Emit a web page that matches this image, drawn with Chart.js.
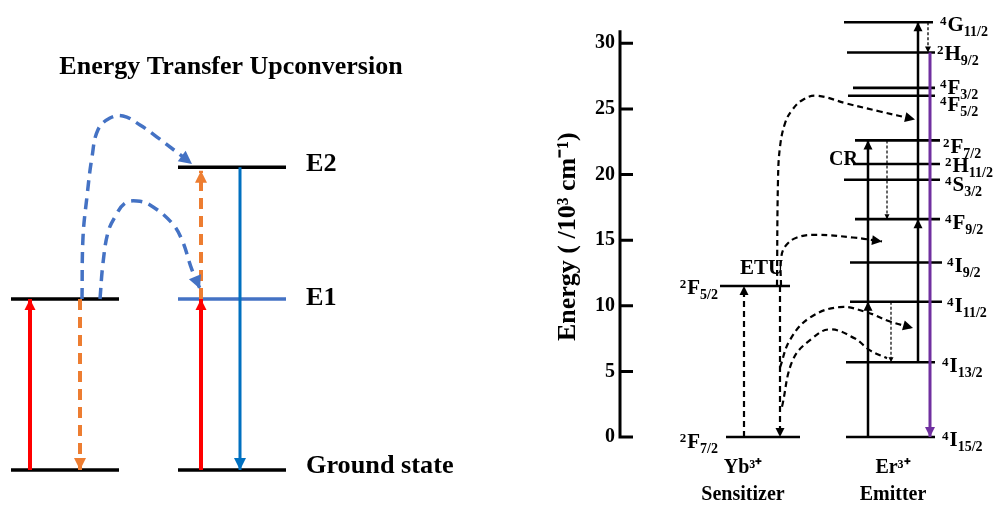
<!DOCTYPE html>
<html>
<head>
<meta charset="utf-8">
<script src="https://cdn.jsdelivr.net/npm/chart.js@4.4.1/dist/chart.umd.min.js"></script>
<style>
  html, body { margin: 0; padding: 0; background: #fff; }
  #wrap { position: relative; width: 996px; height: 505px; }
  #left { position: absolute; left: 0; top: 0; width: 462px; height: 505px; }
  #right { position: absolute; left: 462px; top: 0; width: 534px; height: 505px; }
</style>
</head>
<body>
<div id="wrap">
  <div id="left"><canvas id="etu"></canvas></div>
  <div id="right"><canvas id="ybEr"></canvas></div>
</div>
<script>
// ---- left panel: generic ETU scheme (arbitrary units, E1 = 1) ----
const etuLevelNames = ["Ground state", "E1", "E2"];
const etuLevelEnergy = [0, 1, 1.77];

// ---- right panel: Yb3+ sensitizer / Er3+ emitter, 10^3 cm^-1 ----
const ybTerms = ["2F7/2", "2F5/2"];
const ybEnergy = [0, 11.5];
const erTerms = ["4I15/2", "4I13/2", "4I11/2", "4I9/2", "4F9/2", "4S3/2",
                 "2H11/2", "2F7/2", "4F5/2", "4F3/2", "2H9/2", "4G11/2"];
const erEnergy = [0, 5.7, 10.3, 13.3, 16.6, 19.6, 20.8, 22.6, 26.0, 26.6, 29.3, 31.6];
const energyTicks = [0, 5, 10, 15, 20, 25, 30];
const ionNames = ["Yb³⁺", "Er³⁺"];
const ionRoles = ["Sensitizer", "Emitter"];

// ---- layout (x in page px, both x scales are set up that way) ----
const FONT = '"Liberation Serif", "Times New Roman", serif';
const ETU_SPAN = { left: [11, 119], right: [178, 286] };
const ETU_LABEL_X = 306;
const ETU_LABEL_DY = [-3, 0, -2.5];
const ER_SPAN = [[846, 935], [846, 935], [850, 942], [850, 942], [855, 940], [844, 940],
                 [853, 940], [855, 940], [848, 935], [853, 935], [847, 935], [844, 933]];
const ER_LABEL_X = [942, 942, 947, 947, 945, 945, 945, 943, 940, 940, 937, 940];
const ER_LABEL_DY = [2, 3, 3, 3, 3, 4, 1, 6, 8, -1, 1, 2];
const YB_SPAN = [[726, 800], [720, 790]];
const YB_LABEL_RIGHT = 718;
const YB_LABEL_DY = [4, 1];
const ION_X = [743, 893];
const AXIS_TOP = 31.0;

const line = (pts, color, width, opts = {}) => ({
  data: pts.map(([x, y]) => ({ x, y })),
  showLine: true,
  borderColor: color,
  backgroundColor: color,
  borderWidth: width,
  borderDash: opts.dash || [],
  borderCapStyle: "butt",
  tension: opts.tension || 0,
  pointRadius: 0,
  pointHoverRadius: 0,
  clip: false,
  order: opts.order ?? 1,
  head: opts.head || 0,
});

/** filled triangle at the last point of any dataset that has `head` */
const arrowHeads = {
  id: "arrowHeads",
  afterDatasetsDraw(chart) {
    const ctx = chart.ctx;
    chart.data.datasets.forEach((ds, i) => {
      if (!ds.head) return;
      const pts = chart.getDatasetMeta(i).data;
      const tip = pts[pts.length - 1];
      const prev = pts[pts.length - 2];
      const fx = tip.cp1x !== undefined ? tip.cp1x : prev.x;
      const fy = tip.cp1y !== undefined ? tip.cp1y : prev.y;
      let dx = tip.x - fx, dy = tip.y - fy;
      const len = Math.hypot(dx, dy) || 1;
      dx /= len; dy /= len;
      const L = ds.head, w = ds.head * 0.5;
      const bx = tip.x - dx * L, by = tip.y - dy * L;
      ctx.save();
      ctx.fillStyle = ds.borderColor;
      ctx.beginPath();
      ctx.moveTo(tip.x, tip.y);
      ctx.lineTo(bx - dy * w, by + dx * w);
      ctx.lineTo(bx + dy * w, by - dx * w);
      ctx.closePath();
      ctx.fill();
      ctx.restore();
    });
  },
};

// ================= left chart =================
const [G, E1, E2] = etuLevelEnergy;
const ORANGE = "#ED7D31", RED = "#FF0000", BLUE_D = "#4472C4", BLUE = "#0070C0";

const etuDatasets = [
  // levels
  line([[ETU_SPAN.left[0], G], [ETU_SPAN.left[1], G]], "#000", 3.5, { order: 3 }),
  line([[ETU_SPAN.left[0], E1], [ETU_SPAN.left[1], E1]], "#000", 3.5, { order: 3 }),
  line([[ETU_SPAN.right[0], G], [ETU_SPAN.right[1], G]], "#000", 3.5, { order: 3 }),
  line([[ETU_SPAN.right[0], E1], [ETU_SPAN.right[1], E1]], BLUE_D, 3.5, { order: 3 }),
  line([[ETU_SPAN.right[0], E2], [ETU_SPAN.right[1], E2]], "#000", 3.5, { order: 3 }),
  // transitions
  line([[30, G], [30, E1]], RED, 4, { head: 11 }),
  line([[80, E1], [80, G]], ORANGE, 4, { dash: [11, 7], head: 12 }),
  line([[201, G], [201, E1]], RED, 4, { head: 11 }),
  line([[201, E1], [201, E2 - 0.02]], ORANGE, 4, { dash: [11, 7], head: 12 }),
  line([[240, E2], [240, G]], BLUE, 3, { head: 12 }),
  // energy transfer paths
  line([[82, E1], [83, 1.36], [87, 1.6], [92, 1.83], [98, 1.99], [110, 2.058],
        [123, 2.07], [140, 2.018], [157, 1.947], [192, 1.79]],
       BLUE_D, 3.5, { dash: [11, 7], head: 13, tension: 0.4, order: 2 }),
  line([[100, E1], [103, 1.21], [108, 1.39], [115, 1.48], [125, 1.56], [137, 1.573],
        [150, 1.55], [172, 1.444], [182, 1.345], [192, 1.17], [200, 1.06]],
       BLUE_D, 3.5, { dash: [11, 7], head: 13, tension: 0.4, order: 2 }),
];

function wideText(ctx, text, x, y, size, sx, align) {
  ctx.save();
  ctx.font = `bold ${size}px ${FONT}`;
  ctx.fillStyle = "#000";
  ctx.textBaseline = "middle";
  ctx.textAlign = align;
  ctx.translate(x, y);
  ctx.scale(sx, 1);
  ctx.fillText(text, 0, 0);
  ctx.restore();
}

const etuText = {
  id: "etuText",
  afterDraw(chart) {
    const { ctx, scales: { x, y } } = chart;
    wideText(ctx, "Energy Transfer Upconversion", chart.width / 2, 67.5, 25, 1.04, "center");
    etuLevelNames.forEach((name, i) => {
      wideText(ctx, name, x.getPixelForValue(ETU_LABEL_X),
               y.getPixelForValue(etuLevelEnergy[i]) + ETU_LABEL_DY[i], 25, 1.05, "left");
    });
  },
};

new Chart(document.getElementById("etu"), {
  type: "scatter",
  data: { datasets: etuDatasets },
  options: {
    responsive: true,
    maintainAspectRatio: false,
    animation: false,
    events: [],
    layout: { padding: { top: 91.4, bottom: 35, left: 0, right: 0 } },
    scales: {
      x: { type: "linear", display: false, min: 0, max: 462 },
      y: { type: "linear", display: false, min: 0, max: 2.214 },
    },
    plugins: { legend: { display: false }, tooltip: { enabled: false } },
  },
  plugins: [arrowHeads, etuText],
});

// ================= right chart =================
const PURPLE = "#7030A0";
const er = erEnergy, yb = ybEnergy;
const DASH = [6, 4], DOT = [3, 2];

const ybErDatasets = [
  ...ybEnergy.map((e, i) => line([[YB_SPAN[i][0], e], [YB_SPAN[i][1], e]], "#000", 2.6, { order: 3 })),
  ...erEnergy.map((e, i) => line([[ER_SPAN[i][0], e], [ER_SPAN[i][1], e]], "#000", 2.6, { order: 3 })),
  // Yb absorption / back transfer
  line([[744, yb[0]], [744, yb[1]]], "#000", 2.2, { dash: DASH, head: 9 }),
  line([[780, yb[1]], [780, yb[0]]], "#000", 2.2, { dash: DASH, head: 9 }),
  // Er ground/excited state absorption
  line([[868, er[0]], [868, er[2]]], "#000", 2.5, { head: 9 }),
  line([[868, er[2]], [868, er[7]]], "#000", 2.5, { head: 9 }),
  line([[918, er[1]], [918, er[4]]], "#000", 2.5, { head: 9 }),
  line([[918, er[4]], [918, er[11]]], "#000", 2.5, { head: 9 }),
  // emission
  line([[930, er[10]], [930, er[0]]], PURPLE, 3, { head: 10 }),
  // non-radiative / cross relaxation
  line([[928, er[11]], [928, er[10]]], "#000", 1.3, { dash: DOT, head: 6 }),
  line([[887, er[7]], [887, er[4]]], "#000", 1.2, { dash: DOT, head: 5 }),
  line([[891, er[2]], [891, er[1]]], "#000", 1.2, { dash: DOT, head: 5 }),
  // ETU paths
  line([[777, yb[1]], [778, 19.6], [780, 22.1], [785, 23.9], [792, 24.9], [803, 25.7],
        [817, 26.0], [847, 25.4], [880, 24.8], [915, 24.2]],
       "#000", 2.2, { dash: DASH, head: 10, tension: 0.4 }),
  line([[781, yb[1]], [781, 13.5], [785, 14.5], [797, 15.2], [817, 15.4], [853, 15.2], [882, 14.9]],
       "#000", 2.2, { dash: DASH, head: 10, tension: 0.4 }),
  line([[780, 5.3], [790, 7.4], [810, 9.1], [840, 9.9], [867, 9.5], [890, 8.8], [913, 8.3]],
       "#000", 2.2, { dash: DASH, head: 10, tension: 0.4 }),
  line([[782, 2.3], [793, 5.9], [812, 7.5], [830, 8.2], [855, 7.5], [870, 6.6], [887, 6.0]],
       "#000", 2.2, { dash: DASH, tension: 0.4 }),
];

function drawTerm(ctx, term, x, yc, align) {
  const sup = term[0], letter = term[1], sub = term.slice(2);
  const big = 21, small = 13, subSize = 14;
  ctx.save();
  ctx.fillStyle = "#000";
  ctx.textBaseline = "alphabetic";
  ctx.textAlign = "left";
  ctx.font = `bold ${small}px ${FONT}`;
  const wSup = ctx.measureText(sup).width;
  ctx.font = `bold ${big}px ${FONT}`;
  const wL = ctx.measureText(letter).width;
  ctx.font = `bold ${subSize}px ${FONT}`;
  const wSub = ctx.measureText(sub).width;
  let cx = align === "right" ? x - (wSup + 1 + wL + wSub) : x;
  const base = yc + big * 0.33;
  ctx.font = `bold ${small}px ${FONT}`;
  ctx.fillText(sup, cx, base - 6);
  cx += wSup + 1;
  ctx.font = `bold ${big}px ${FONT}`;
  ctx.fillText(letter, cx, base);
  cx += wL;
  ctx.font = `bold ${subSize}px ${FONT}`;
  ctx.fillText(sub, cx, base + 5);
  ctx.restore();
}

const ybErDecor = {
  id: "ybErDecor",
  afterDraw(chart) {
    const { ctx, chartArea, scales: { x, y } } = chart;
    ctx.save();
    // axis spine with inward ticks
    ctx.strokeStyle = "#000";
    ctx.lineWidth = 3;
    ctx.beginPath();
    ctx.moveTo(chartArea.left, y.getPixelForValue(0) + 1.5);
    ctx.lineTo(chartArea.left, y.getPixelForValue(AXIS_TOP));
    energyTicks.forEach((v) => {
      const py = y.getPixelForValue(v);
      ctx.moveTo(chartArea.left - 1.5, py);
      ctx.lineTo(chartArea.left + 13, py);
    });
    ctx.stroke();
    ctx.restore();

    erTerms.forEach((t, i) =>
      drawTerm(ctx, t, x.getPixelForValue(ER_LABEL_X[i]),
               y.getPixelForValue(erEnergy[i]) + ER_LABEL_DY[i], "left"));
    ybTerms.forEach((t, i) =>
      drawTerm(ctx, t, x.getPixelForValue(YB_LABEL_RIGHT),
               y.getPixelForValue(ybEnergy[i]) + YB_LABEL_DY[i], "right"));

    ctx.save();
    ctx.fillStyle = "#000";
    ctx.textBaseline = "middle";
    ctx.textAlign = "left";
    ctx.font = `bold 21px ${FONT}`;
    ctx.fillText("ETU", x.getPixelForValue(740), y.getPixelForValue(12.8));
    ctx.font = `bold 20px ${FONT}`;
    ctx.fillText("CR", x.getPixelForValue(829), y.getPixelForValue(21.1));
    ctx.restore();
  },
};

new Chart(document.getElementById("ybEr"), {
  type: "scatter",
  data: { datasets: ybErDatasets },
  options: {
    responsive: true,
    maintainAspectRatio: false,
    animation: false,
    events: [],
    layout: { padding: { top: 17, bottom: 0, left: 0, right: 0 } },
    scales: {
      x: {
        type: "linear",
        position: "bottom",
        min: 620,
        max: 996,
        grid: { display: false, drawTicks: false },
        border: { display: false },
        afterBuildTicks: (s) => { s.ticks = ION_X.map((v) => ({ value: v })); },
        afterFit: (s) => { s.height = 68; },
        ticks: {
          autoSkip: false,
          maxRotation: 0,
          minRotation: 0,
          padding: 17,
          color: "#000",
          font: { family: FONT, size: 20, weight: "bold", lineHeight: 1.35 },
          callback: (v, i) => [ionNames[i], ionRoles[i]],
        },
      },
      y: {
        type: "linear",
        min: 0,
        max: 32,
        grid: { display: false, drawTicks: false },
        border: { display: false },
        afterBuildTicks: (s) => { s.ticks = energyTicks.map((v) => ({ value: v })); },
        afterFit: (s) => { s.width = 158; },
        ticks: { padding: 5, color: "#000", font: { family: FONT, size: 20, weight: "bold" } },
        title: {
          display: true,
          // trailing spaces nudge the rotated title down to where the original sits
          text: "Energy ( /10³ cm⁻¹)   ",
          color: "#000",
          font: { family: FONT, size: 26, weight: "bold" },
          padding: { top: 90.4, bottom: 0 },
        },
      },
    },
    plugins: { legend: { display: false }, tooltip: { enabled: false } },
  },
  plugins: [arrowHeads, ybErDecor],
});
</script>
</body>
</html>
